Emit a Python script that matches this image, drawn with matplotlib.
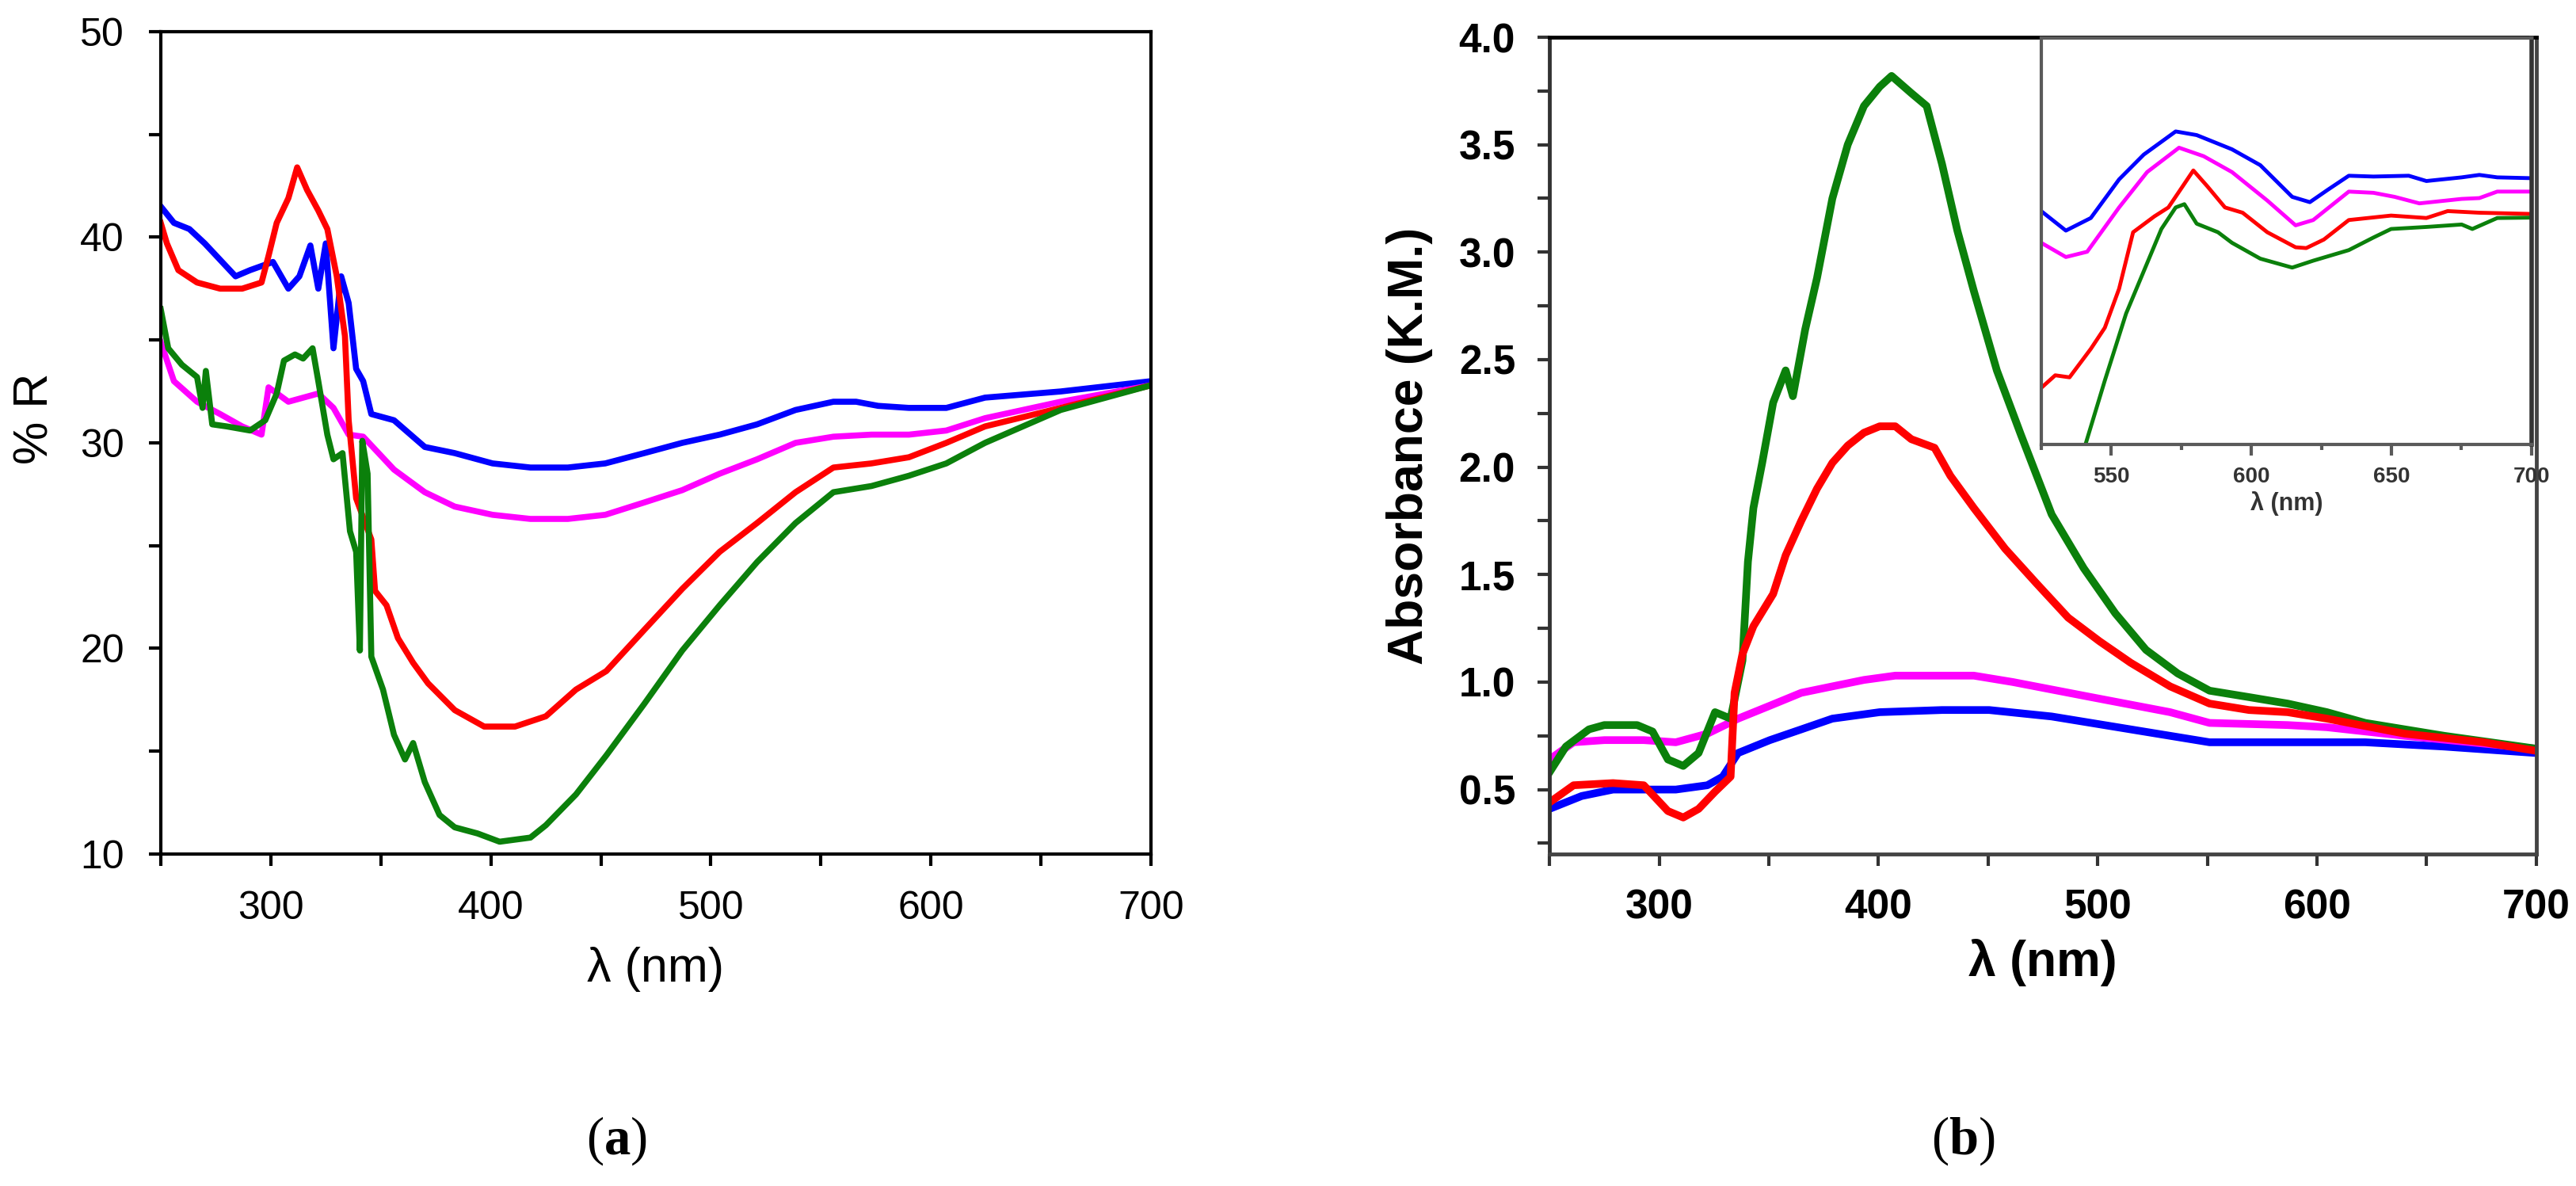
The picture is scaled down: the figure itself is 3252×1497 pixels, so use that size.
import matplotlib
matplotlib.use("Agg")
import matplotlib.pyplot as plt
from matplotlib.ticker import MultipleLocator, FormatStrFormatter

plt.rcParams['font.family'] = ['Liberation Sans', 'DejaVu Sans']
plt.rcParams['mathtext.fontset'] = 'custom'
plt.rcParams['mathtext.rm'] = 'Liberation Serif'
plt.rcParams['mathtext.bf'] = 'Liberation Serif:bold'

# ---------------- Panel (a): reflectance ----------------
a_blue_x = [250, 256, 263, 270, 277, 284, 290.6, 301, 308, 313, 318, 321.6, 325, 328.5, 332, 335.4, 338.8, 342, 345.7, 356, 370, 383.6, 400.8, 418, 435, 452, 469.7, 487, 504, 521, 538.5, 555.7, 566, 576, 590, 607, 624.6, 659, 700]
a_blue_y = [41.5, 40.7, 40.4, 39.7, 38.9, 38.1, 38.4, 38.8, 37.5, 38.1, 39.6, 37.5, 39.7, 34.6, 38.1, 36.8, 33.6, 33.0, 31.4, 31.1, 29.8, 29.5, 29.0, 28.8, 28.8, 29.0, 29.5, 30.0, 30.4, 30.9, 31.6, 32.0, 32.0, 31.8, 31.7, 31.7, 32.2, 32.5, 33.0]

a_red_x = [250, 252.8, 258, 266.5, 277, 287, 295.8, 299, 302.7, 308, 312, 316.5, 321.6, 325.7, 330, 333.7, 335.4, 338.8, 345.7, 347.4, 352.6, 357.8, 364.7, 371.5, 383.6, 397, 411, 425, 438.7, 452.5, 469.7, 487, 504, 521, 538.5, 555.7, 573, 590, 607, 624.6, 659, 700]
a_red_y = [40.7, 39.7, 38.4, 37.8, 37.5, 37.5, 37.8, 39.1, 40.7, 41.9, 43.4, 42.3, 41.3, 40.4, 38.1, 35.2, 31.1, 27.3, 25.3, 22.8, 22.1, 20.5, 19.3, 18.3, 17.0, 16.2, 16.2, 16.7, 18.0, 18.9, 20.9, 22.9, 24.7, 26.1, 27.6, 28.8, 29.0, 29.3, 30.0, 30.8, 31.7, 32.8]

a_mag_x = [250, 256, 266.5, 277, 287, 295.8, 299, 308, 321.6, 328.5, 335.4, 342, 349, 356, 370, 383.6, 400.8, 418, 435, 452, 469.7, 487, 504, 521, 538.5, 555.7, 573, 590, 607, 624.6, 659, 700]
a_mag_y = [34.9, 33.0, 32.0, 31.4, 30.8, 30.4, 32.7, 32.0, 32.4, 31.7, 30.4, 30.3, 29.5, 28.7, 27.6, 26.9, 26.5, 26.3, 26.3, 26.5, 27.1, 27.7, 28.5, 29.2, 30.0, 30.3, 30.4, 30.4, 30.6, 31.2, 32.0, 32.8]

a_green_x = [250, 253.4, 259.6, 266.5, 269, 270.5, 273.4, 280, 290.6, 297.5, 302.7, 306, 311, 314.7, 319, 321.6, 325.7, 328.5, 332.6, 336, 338.8, 340.5, 341.6, 344, 345.7, 351, 356, 361, 364.7, 370, 376.7, 383.6, 394, 404, 418, 425, 438.7, 452.5, 469.7, 487, 504, 521, 538.5, 555.7, 573, 590, 607, 624.6, 659, 700]
a_green_y = [36.5, 34.6, 33.8, 33.2, 31.7, 33.5, 30.9, 30.8, 30.6, 31.1, 32.4, 34.0, 34.3, 34.1, 34.6, 33.0, 30.4, 29.2, 29.5, 25.7, 24.7, 19.9, 30.1, 28.5, 19.6, 18.0, 15.8, 14.6, 15.4, 13.5, 11.9, 11.3, 11.0, 10.6, 10.8, 11.4, 12.9, 14.8, 17.3, 19.9, 22.1, 24.2, 26.1, 27.6, 27.9, 28.4, 29.0, 30.0, 31.6, 32.8]

# ---------------- Panel (b): absorbance (K.M.) ----------------
b_green_x = [250, 257.5, 268, 275, 290, 297, 304, 311, 318, 325.5, 332.6, 338, 340.5, 343, 347, 352, 357.7, 361, 366.6, 372, 379, 386, 393.4, 400.6, 406, 415, 422, 429, 436, 443.5, 454, 465, 479, 493.6, 508, 522, 536.5, 551, 569, 586.6, 604.5, 622, 658, 700]
b_green_y = [0.58, 0.70, 0.78, 0.80, 0.80, 0.77, 0.64, 0.61, 0.67, 0.86, 0.83, 1.10, 1.56, 1.81, 2.02, 2.30, 2.45, 2.33, 2.64, 2.88, 3.25, 3.50, 3.68, 3.77, 3.82, 3.74, 3.68, 3.41, 3.10, 2.82, 2.45, 2.15, 1.78, 1.53, 1.32, 1.15, 1.04, 0.96, 0.93, 0.90, 0.86, 0.81, 0.75, 0.69]

b_red_x = [250, 261, 279, 293, 304, 311, 318, 325.5, 332.6, 334.4, 338, 343, 352, 357.7, 364.8, 372, 379, 386, 393.4, 400.6, 407.7, 415, 425.6, 432.8, 443.5, 457.8, 472, 486.5, 500.8, 515, 533, 551, 569, 586.6, 604.5, 640, 676, 700]
b_red_y = [0.44, 0.52, 0.53, 0.52, 0.40, 0.37, 0.41, 0.49, 0.56, 0.95, 1.13, 1.26, 1.41, 1.59, 1.75, 1.90, 2.02, 2.10, 2.16, 2.19, 2.19, 2.13, 2.09, 1.96, 1.81, 1.62, 1.46, 1.30, 1.19, 1.09, 0.98, 0.90, 0.87, 0.86, 0.83, 0.76, 0.72, 0.68]

b_mag_x = [250, 261, 275, 293, 307.6, 322, 336, 350.5, 364.8, 379, 393.4, 407.7, 443.5, 461.4, 497, 533, 551, 586.6, 604.5, 640, 700]
b_mag_y = [0.64, 0.72, 0.73, 0.73, 0.72, 0.76, 0.83, 0.89, 0.95, 0.98, 1.01, 1.03, 1.03, 1.00, 0.93, 0.86, 0.81, 0.80, 0.79, 0.75, 0.69]

b_blue_x = [250, 264.7, 279, 293, 307.6, 322, 329, 336, 350.5, 364.8, 379, 400.6, 429, 450.5, 479, 515, 551, 586.6, 622, 658, 700]
b_blue_y = [0.41, 0.47, 0.50, 0.50, 0.50, 0.52, 0.56, 0.67, 0.73, 0.78, 0.83, 0.86, 0.87, 0.87, 0.84, 0.78, 0.72, 0.72, 0.72, 0.70, 0.67]

# ---------------- Inset (relative units) ----------------
i_blue_x = [525, 533.8, 542.7, 552.8, 561.6, 573, 580.5, 593.1, 603.2, 614.6, 620.9, 627.2, 634.8, 643.6, 656.2, 662.5, 675.1, 681.4, 687.8, 700]
i_blue_y = [0.574, 0.526, 0.557, 0.652, 0.713, 0.770, 0.761, 0.726, 0.687, 0.609, 0.596, 0.626, 0.661, 0.659, 0.661, 0.648, 0.657, 0.663, 0.657, 0.655]

i_mag_x = [525, 533.8, 541.4, 552.8, 562.8, 574.2, 583, 593.1, 605.7, 615.8, 622.1, 634.8, 643.6, 651.2, 660, 675.1, 681.4, 687.8, 700]
i_mag_y = [0.496, 0.461, 0.474, 0.583, 0.670, 0.730, 0.709, 0.670, 0.600, 0.539, 0.552, 0.622, 0.619, 0.609, 0.593, 0.604, 0.606, 0.622, 0.622]

i_red_x = [525, 530, 535.1, 542.7, 547.7, 552.8, 557.8, 565.4, 570.4, 575.5, 579.3, 584.3, 590.6, 596.9, 605.7, 615.8, 619.6, 625.9, 634.8, 649.9, 662.5, 670.1, 681.4, 700]
i_red_y = [0.139, 0.170, 0.165, 0.235, 0.287, 0.383, 0.522, 0.561, 0.583, 0.635, 0.674, 0.635, 0.583, 0.570, 0.522, 0.485, 0.483, 0.504, 0.552, 0.563, 0.557, 0.574, 0.570, 0.567]

i_green_x = [538, 540.8, 547.7, 555.3, 561.6, 567.9, 573, 576.1, 580.5, 588.1, 593.1, 603.2, 614.6, 622.1, 634.8, 643.6, 649.9, 662.5, 675.1, 678.9, 687.8, 700]
i_green_y = [-0.05, 0.0, 0.157, 0.322, 0.426, 0.530, 0.583, 0.591, 0.543, 0.522, 0.496, 0.457, 0.435, 0.452, 0.478, 0.509, 0.530, 0.535, 0.541, 0.530, 0.557, 0.558]

BLUE, RED, MAG, GREEN = '#0000FF', '#FF0000', '#FF00FF', '#0B800B'

fig = plt.figure(figsize=(32.52, 14.97), dpi=100)

# ---- panel (a)
axa = fig.add_axes([0.0624, 0.2799, 0.3844, 0.6934])
lw_a = 5.5
axa.plot(a_blue_x, a_blue_y, color=BLUE, lw=lw_a)
axa.plot(a_mag_x, a_mag_y, color=MAG, lw=lw_a)
axa.plot(a_red_x, a_red_y, color=RED, lw=lw_a)
axa.plot(a_green_x, a_green_y, color=GREEN, lw=lw_a)
axa.set_xlim(250, 700)
axa.set_ylim(10, 50)
axa.xaxis.set_major_locator(MultipleLocator(100))
axa.xaxis.set_minor_locator(MultipleLocator(50))
axa.yaxis.set_major_locator(MultipleLocator(10))
axa.yaxis.set_minor_locator(MultipleLocator(5))
for s in axa.spines.values():
    s.set_linewidth(3)
    s.set_color('black')
axa.tick_params(which='both', direction='out', length=11, width=3, top=False, right=False)
axa.tick_params(which='major', labelsize=36, pad=22)
axa.set_xlabel('λ (nm)', fontsize=44, va='center')
axa.xaxis.set_label_coords(0.5, -0.14)
axa.set_ylabel('% R', fontsize=44, va='center')
axa.yaxis.set_label_coords(-0.126, 0.53)

# ---- panel (b)
axb = fig.add_axes([0.6015, 0.2799, 0.3831, 0.6887])
lw_b = 7
axb.plot(b_blue_x, b_blue_y, color=BLUE, lw=lw_b)
axb.plot(b_mag_x, b_mag_y, color=MAG, lw=lw_b)
axb.plot(b_green_x, b_green_y, color=GREEN, lw=lw_b)
axb.plot(b_red_x, b_red_y, color=RED, lw=lw_b)
axb.set_xlim(250, 700)
axb.set_ylim(0.2, 4.0)
axb.xaxis.set_major_locator(MultipleLocator(100))
axb.xaxis.set_minor_locator(MultipleLocator(50))
axb.yaxis.set_major_locator(MultipleLocator(0.5))
axb.yaxis.set_minor_locator(MultipleLocator(0.25))
axb.yaxis.set_major_formatter(FormatStrFormatter('%.1f'))
for k, s in axb.spines.items():
    s.set_linewidth(3.5)
axb.spines['top'].set_color('black')
axb.spines['left'].set_color('#333333')
axb.spines['bottom'].set_color('#444444')
axb.spines['right'].set_color('#444444')
axb.tick_params(which='both', direction='out', length=11, width=3, color='#333333', top=False, right=False)
axb.tick_params(which='major', labelsize=37, pad=20)
for lab in axb.get_xticklabels() + axb.get_yticklabels():
    lab.set_fontweight('bold')
axb.set_xlabel('λ (nm)', fontsize=45, fontweight='bold', va='center')
axb.xaxis.set_label_coords(0.5, -0.133)
axb.set_ylabel('Absorbance (K.M.)', fontsize=45, fontweight='bold', va='center')
axb.yaxis.set_label_coords(-0.142, 0.5)

# ---- inset
axi = fig.add_axes([0.7924, 0.6253, 0.1903, 0.3427])
lw_i = 3.5
axi.plot(i_blue_x, i_blue_y, color=BLUE, lw=lw_i)
axi.plot(i_mag_x, i_mag_y, color=MAG, lw=lw_i)
axi.plot(i_red_x, i_red_y, color=RED, lw=lw_i)
axi.plot(i_green_x, i_green_y, color=GREEN, lw=lw_i)
axi.set_xlim(525, 700)
axi.set_ylim(0, 1)
axi.xaxis.set_major_locator(MultipleLocator(50))
axi.xaxis.set_minor_locator(MultipleLocator(25))
axi.set_yticks([])
for k, s in axi.spines.items():
    s.set_linewidth(3)
    s.set_color('#5a5a5a')
axi.spines['right'].set_color('#333333')
axi.spines['right'].set_linewidth(4)
axi.tick_params(axis='x', which='major', direction='out', length=10, width=3, color='#5a5a5a', labelsize=20, pad=10)
axi.tick_params(axis='x', which='minor', direction='out', length=5, width=3, color='#5a5a5a')
for lab in axi.get_xticklabels():
    lab.set_fontweight('bold')
    lab.set_color('#333333')
axi.set_xlabel('λ (nm)', fontsize=22, fontweight='bold', color='#333333', labelpad=4)

# ---- sub-figure labels
fig.text(0.2392, 0.038, r'($\mathbf{a}$)', fontsize=48, family='Liberation Serif', ha='center', va='center')
fig.text(0.7620, 0.038, r'($\mathbf{b}$)', fontsize=48, family='Liberation Serif', ha='center', va='center')

fig.savefig('out.png', dpi=100, facecolor='white')
